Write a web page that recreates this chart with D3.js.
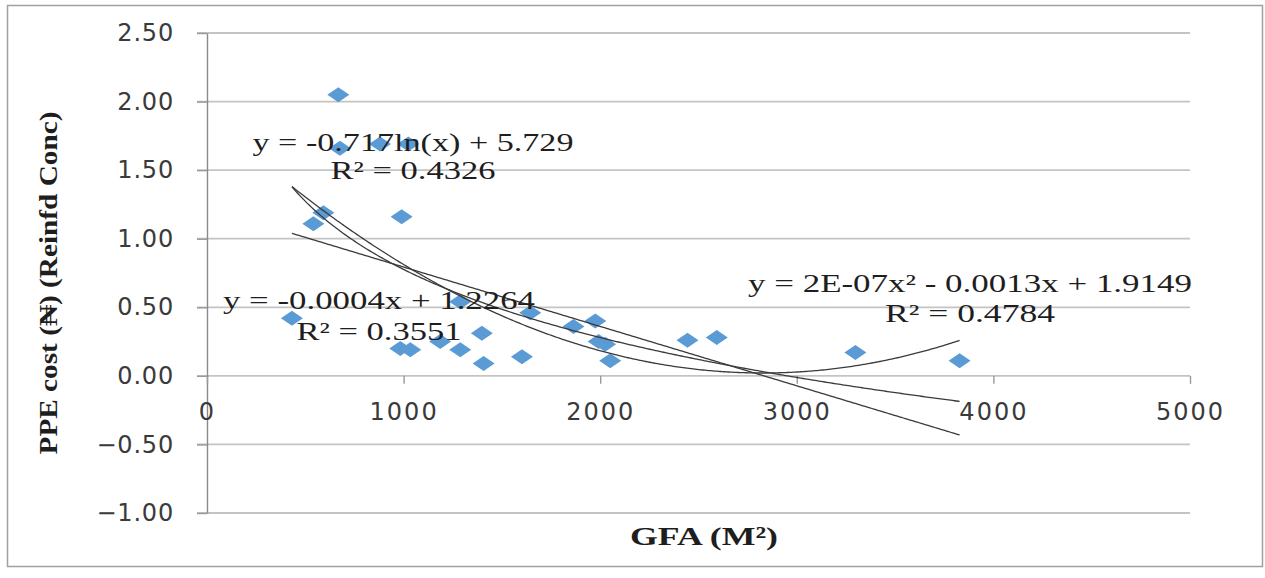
<!DOCTYPE html>
<html>
<head>
<meta charset="utf-8">
<script src="https://cdn.jsdelivr.net/npm/d3@7"></script>
<style>
  body { margin: 0; background: #fff; }
  svg { display: block; }
</style>
</head>
<body>
<svg id="chart" width="1265" height="578"></svg>
<script>
// Gross floor area (m²) and PPE cost per building
const gfa  = [668, 676, 880, 1024, 592, 541, 990, 432, 983, 1034, 1186, 1288, 1398, 1407, 1288,
              1602, 1644, 1864, 1975, 1992, 2025, 2051, 2444, 2593, 3298, 3828];
const cost = [2.05, 1.66, 1.69, 1.69, 1.19, 1.11, 1.16, 0.42, 0.20, 0.19, 0.25, 0.19, 0.31, 0.09, 0.54,
              0.14, 0.46, 0.36, 0.40, 0.25, 0.23, 0.11, 0.26, 0.28, 0.17, 0.11];

const xTicks = [0, 1000, 2000, 3000, 4000, 5000];
const yTicks = [-1, -0.5, 0, 0.5, 1, 1.5, 2, 2.5];

// Trendline coefficients
const logFit  = [-0.717, 5.729];            // y = a·ln(x) + b
const linFit  = [-0.000433, 1.2264];        // y = m·x + c
const quadFit = [2.37e-7, -0.00134, 1.9149]; // y = a·x² + b·x + c

const eqText = ["y = -0.717ln(x) + 5.729", "y = -0.0004x + 1.2264", "y = 2E-07x\u00B2 - 0.0013x + 1.9149"];
const r2Text = ["R\u00B2 = 0.4326", "R\u00B2 = 0.3551", "R\u00B2 = 0.4784"];

const svg = d3.select("#chart");
const x = d3.scaleLinear().domain([0, 5000]).range([207, 1190]);
const y = d3.scaleLinear().domain([-1, 2.5]).range([513, 33]);

// outer frame
svg.append("rect")
  .attr("x", 7.5).attr("y", 5.5).attr("width", 1255).attr("height", 561)
  .attr("fill", "none").attr("stroke", "#a0a0a0").attr("stroke-width", 1.5);

// horizontal gridlines
svg.append("g").selectAll("line").data(yTicks).join("line")
  .attr("x1", 197).attr("x2", x(5000))
  .attr("y1", d => y(d)).attr("y2", d => y(d))
  .attr("stroke", "#c4c4c4").attr("stroke-width", 1.8);

// y axis
const yAxis = svg.append("g").attr("transform", `translate(${x(0)},0)`)
  .call(d3.axisLeft(y).tickValues(yTicks).tickFormat(d3.format(".2f")).tickSize(10).tickPadding(23).tickSizeOuter(0));
yAxis.select(".domain").attr("stroke", "#8a8a8a").attr("stroke-width", 1.4);
yAxis.selectAll(".tick line").attr("stroke", "#9a9a9a").attr("stroke-width", 1.4);
yAxis.selectAll(".tick text")
  .attr("font-family", "DejaVu Sans, Verdana, sans-serif").attr("font-size", 24)
  .attr("fill", "#3a3a3a").attr("letter-spacing", 0.8);

// x axis along y = 0
const xAxis = svg.append("g").attr("transform", `translate(0,${y(0)})`)
  .call(d3.axisBottom(x).tickValues(xTicks).tickFormat(d3.format("d")).tickSize(8).tickPadding(19).tickSizeOuter(0));
xAxis.select(".domain").remove();
xAxis.selectAll(".tick line").attr("stroke", "#9a9a9a").attr("stroke-width", 1.4);
xAxis.selectAll(".tick text")
  .attr("font-family", "DejaVu Sans, Verdana, sans-serif").attr("font-size", 24)
  .attr("fill", "#3a3a3a").attr("letter-spacing", 2);

// data markers
const pts = gfa.map((g, i) => ({ g, c: cost[i] }));
svg.append("g").selectAll("path").data(pts).join("path")
  .attr("transform", d => `translate(${x(d.g)},${y(d.c)})`)
  .attr("d", "M0,-7.5L11,0L0,7.5L-11,0Z")
  .attr("fill", "#5b9bd5");

// trendlines over the observed GFA range
const xs = d3.range(d3.min(gfa), d3.max(gfa), 10).concat([d3.max(gfa)]);
const fits = [
  g => logFit[0] * Math.log(g) + logFit[1],
  g => linFit[0] * g + linFit[1],
  g => quadFit[0] * g * g + quadFit[1] * g + quadFit[2]
];
const line = d3.line().x(d => x(d[0])).y(d => y(d[1]));
svg.append("g").selectAll("path").data(fits).join("path")
  .attr("d", f => line(xs.map(g => [g, f(g)])))
  .attr("fill", "none").attr("stroke", "#3a3a3a").attr("stroke-width", 1.3);

// equation labels
const eqPos = [
  { cx: 413, y1: 151, y2: 179, w1: 321, w2: 165 },
  { cx: 379, y1: 309, y2: 340, w1: 312, w2: 165 },
  { cx: 970, y1: 292, y2: 322, w1: 444, w2: 170 }
];
const eqG = svg.append("g")
  .attr("font-family", "Liberation Serif, Times New Roman, serif")
  .attr("font-size", 25).attr("fill", "#1e1e1e").attr("text-anchor", "middle");
eqPos.forEach((p, i) => {
  eqG.append("text").attr("x", p.cx).attr("y", p.y1)
    .attr("textLength", p.w1).attr("lengthAdjust", "spacingAndGlyphs").text(eqText[i]);
  eqG.append("text").attr("x", p.cx).attr("y", p.y2)
    .attr("textLength", p.w2).attr("lengthAdjust", "spacingAndGlyphs").text(r2Text[i]);
});

// axis titles
svg.append("text")
  .attr("x", 704).attr("y", 545).attr("text-anchor", "middle")
  .attr("font-family", "Liberation Serif, Times New Roman, serif").attr("font-weight", "bold")
  .attr("font-size", 26).attr("fill", "#1e1e1e")
  .attr("textLength", 148).attr("lengthAdjust", "spacingAndGlyphs")
  .text("GFA (M\u00B2)");

svg.append("text")
  .attr("transform", "translate(57,283) rotate(-90)").attr("text-anchor", "middle")
  .attr("font-family", "Liberation Serif, Times New Roman, serif").attr("font-weight", "bold")
  .attr("font-size", 25).attr("fill", "#1e1e1e")
  .attr("textLength", 343).attr("lengthAdjust", "spacingAndGlyphs")
  .text("PPE cost (\u20A6) (Reinfd Conc)");
</script>
</body>
</html>
